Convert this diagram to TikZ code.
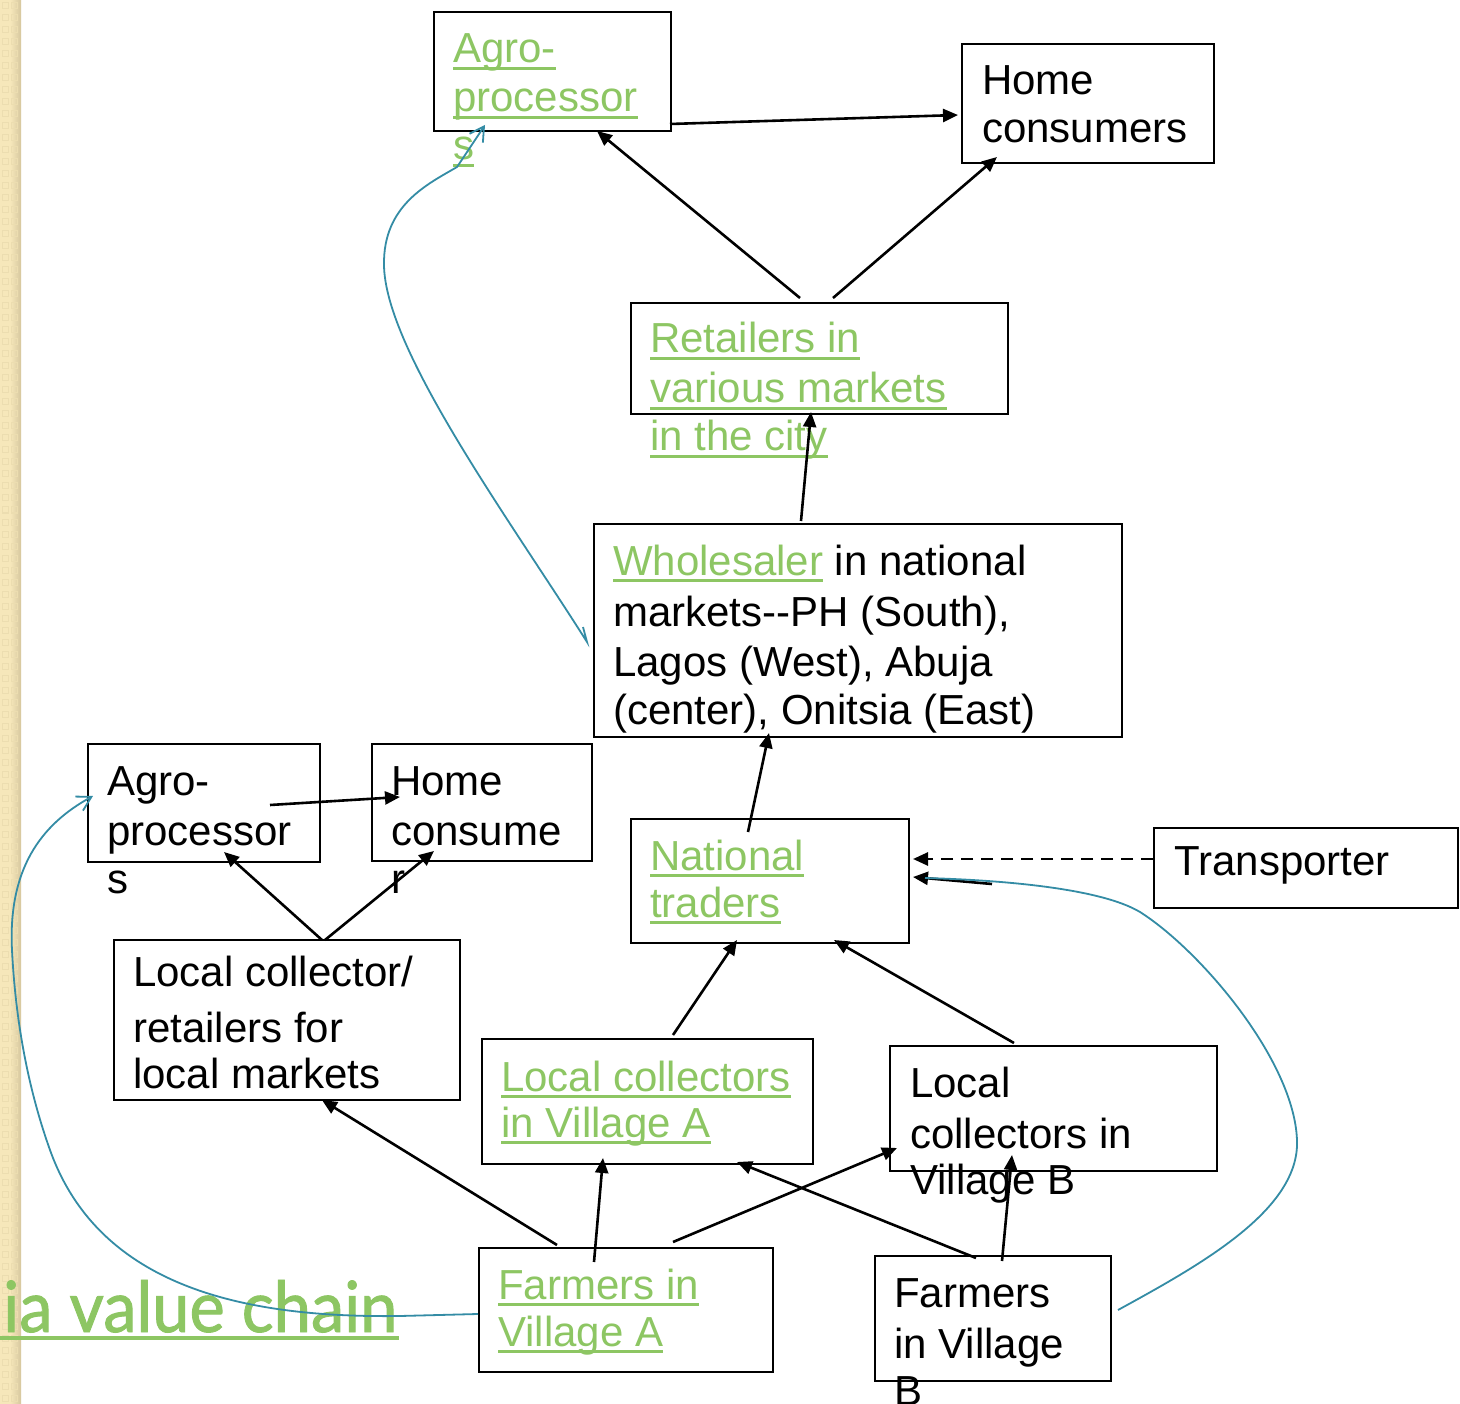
\documentclass[tikz,border=0pt]{standalone}
\usepackage{fontspec}
\setmainfont{Liberation Sans}
\newfontfamily\titlefont[FakeBold=1.3]{Lato}
\usepackage{graphicx}
\usetikzlibrary{arrows.meta,calc}
\definecolor{lgreen}{RGB}{141,198,99}
\definecolor{curveblue}{RGB}{52,140,165}
\definecolor{stripeA}{RGB}{246,231,186}
\definecolor{stripeB}{RGB}{214,199,158}
\definecolor{stripeC}{RGB}{236,221,176}
\newsavebox\gulbox
\newcommand\gul[1]{\sbox\gulbox{#1}\rlap{\rule[-7pt]{\wd\gulbox}{3pt}}\usebox\gulbox}
\tikzset{
  boxnode/.style={draw=black, line width=2.4pt, fill=none, inner sep=0pt, anchor=north west},
  txt/.style={inner sep=0pt, anchor=base west, font=\fontsize{42}{49}\selectfont, text=black},
  gtxt/.style={txt, text=lgreen},
  flow/.style={line width=2.6pt, -{Triangle[length=15pt,width=13pt]}},
  dflow/.style={flow, dash pattern=on 12pt off 8pt},
  bluecurve/.style={draw=curveblue, line width=1.8pt},
  bluearrow/.style={bluecurve, -{Straight Barb[length=14pt,width=16pt,line width=1.8pt]}}
}
\begin{document}
\begin{tikzpicture}[x=1pt,y=-1pt]
\useasboundingbox (0,0) rectangle (1460,1404);
\fill[white] (0,0) rectangle (1460,1404);
% left decorative stripe
\shade[left color=stripeA, right color=stripeB, middle color=stripeA] (0,0) rectangle (21,1404);
\foreach \yy in {0,12,...,1400} {
  \draw[stripeC, line width=1pt] (2,\yy+3) rectangle (8,\yy+9);
  \draw[stripeC, line width=1pt] (11,\yy+3) rectangle (17,\yy+9);
}

% title fragment
\node[inner sep=0pt, anchor=base west, text=lgreen] (title) at (3,1332)
  {\resizebox{394pt}{52pt}{\titlefont ia value chain}};
\fill[lgreen] (0,1336) rectangle (399,1340);

% boxes
\node[boxnode, minimum width=237pt, minimum height=119pt] (agroT) at (433,11) {};
\node[boxnode, minimum width=252pt, minimum height=119pt] (homeT) at (961,43) {};
\node[boxnode, minimum width=377pt, minimum height=111pt] (ret) at (630,302) {};
\node[boxnode, minimum width=528pt, minimum height=213pt] (whole) at (593,523) {};
\node[boxnode, minimum width=232pt, minimum height=118pt] (agroL) at (87,743) {};
\node[boxnode, minimum width=220pt, minimum height=117pt] (homeL) at (371,743) {};
\node[boxnode, minimum width=278pt, minimum height=124pt] (nat) at (630,818) {};
\node[boxnode, minimum width=304pt, minimum height=80pt] (trans) at (1153,827) {};
\node[boxnode, minimum width=346pt, minimum height=160pt] (lcr) at (113,939) {};
\node[boxnode, minimum width=331pt, minimum height=125pt] (lca) at (481,1038) {};
\node[boxnode, minimum width=327pt, minimum height=125pt] (lcb) at (889,1045) {};
\node[boxnode, minimum width=294pt, minimum height=124pt] (fa) at (478,1247) {};
\node[boxnode, minimum width=236pt, minimum height=125pt] (fb) at (874,1255) {};

% texts
\node[gtxt] (agroT1) at (453,63) {\gul{Agro-}};
\node[gtxt] (agroT2) at (453,112) {\gul{processor}};
\node[gtxt] (agroT3) at (453,160) {\gul{s}};

\node[txt] (homeT1) at (982,95) {Home};
\node[txt] (homeT2) at (982,143) {consumers};

\node[gtxt] (ret1) at (650,353) {\gul{Retailers in}};
\node[gtxt] (ret2) at (650,403) {\gul{various markets}};
\node[gtxt] (ret3) at (650,451) {\gul{in the city}};

\node[txt] (whole1) at (613,575) {\textcolor{lgreen}{\gul{Wholesaler}} in national};
\node[txt] (whole2) at (613,626) {markets-{}-PH (South),};
\node[txt] (whole3) at (613,676) {Lagos (West), Abuja};
\node[txt] (whole4) at (613,724) {(center), Onitsia (East)};

\node[txt] (agroL1) at (107,795) {Agro-};
\node[txt] (agroL2) at (107,845) {processor};
\node[txt] (agroL3) at (107,893) {s};

\node[txt] (homeL1) at (391,795) {Home};
\node[txt] (homeL2) at (391,845) {consume};
\node[txt] (homeL3) at (391,893) {r};

\node[gtxt] (nat1) at (650,870) {\gul{National}};
\node[gtxt] (nat2) at (650,917) {\gul{traders}};

\node[txt] (trans1) at (1174,875) {Transporter};

\node[txt] (lcr1) at (133,986) {Local collector/};
\node[txt] (lcr2) at (133,1042) {retailers for};
\node[txt] (lcr3) at (133,1088) {local markets};

\node[gtxt] (lca1) at (501,1091) {\gul{Local collectors}};
\node[gtxt] (lca2) at (501,1137) {\gul{in Village A}};

\node[txt] (lcb1) at (910,1097) {Local};
\node[txt] (lcb2) at (910,1148) {collectors in};
\node[txt] (lcb3) at (910,1194) {Village B};

\node[gtxt] (fa1) at (498,1299) {\gul{Farmers in}};
\node[gtxt] (fa2) at (498,1346) {\gul{Village A}};

\node[txt] (fb1) at (894,1307) {Farmers};
\node[txt] (fb2) at (894,1358) {in Village};
\node[txt] (fb3) at (894,1405) {B};

% black connectors
\draw[flow] ($(agroT.north west)+(237,113)$) -- ($(homeT.north west)+(-3,72)$);
\draw[flow] ($(ret.north west)+(170,-4)$) -- ($(agroT.north west)+(164,120)$);
\draw[flow] ($(ret.north west)+(203,-4)$) -- ($(homeT.north west)+(36,114)$);
\draw[flow] ($(whole.north west)+(208,-2)$) -- ($(ret.north west)+(181,110)$);
\draw[flow] ($(nat.north west)+(118,14)$) -- ($(whole.north west)+(176,210)$);
\draw[flow] ($(lca.north west)+(192,-3)$) -- ($(nat.north west)+(107,122)$);
\draw[flow] ($(lcb.north west)+(125,-2)$) -- ($(nat.north west)+(204,122)$);
\draw[dflow] ($(trans.north west)+(0,32)$) -- ($(nat.north west)+(283,41)$);
\draw[flow] ($(nat.north west)+(362,66)$) -- ($(nat.north west)+(283,59)$);
\draw[flow] ($(agroL.north west)+(183,62)$) -- ($(homeL.north west)+(29,54)$);
\draw[flow] ($(lcr.north west)+(209,1)$) -- ($(agroL.north west)+(137,109)$);
\draw[flow] ($(lcr.north west)+(212,1)$) -- ($(homeL.north west)+(63,108)$);
\draw[flow] ($(fa.north west)+(79,-2)$) -- ($(lcr.north west)+(209,161)$);
\draw[flow] ($(fa.north west)+(116,15)$) -- ($(lca.north west)+(122,120)$);
\draw[flow] ($(fa.north west)+(195,-5)$) -- ($(lcb.north west)+(8,103)$);
\draw[flow] ($(fb.north west)+(102,3)$) -- ($(lca.north west)+(256,124)$);
\draw[flow] ($(fb.north west)+(128,6)$) -- ($(lcb.north west)+(123,110)$);

% blue curved connectors
\coordinate (wholeTick) at ($(whole.north west)+(-10,104)$);
\coordinate (wholeCurve) at ($(whole.north west)+(-6,119)$);
\coordinate (agroTCurve) at ($(agroT.north west)+(52,114)$);
\draw[bluearrow] (wholeTick) -- (wholeCurve)
  .. controls (510,520) and (385,350) .. (384,265)
  .. controls (383,205) and (428,184) .. (457,167) -- (agroTCurve);

\coordinate (faCurve) at ($(fa.north west)+(0,67)$);
\coordinate (agroLCurve) at ($(agroL.north west)+(6,53)$);
\draw[bluearrow] (faCurve) -- (400,1316)
  .. controls (250,1318) and (100,1290) .. (50,1150)
  .. controls (25,1080) and (15,1010) .. (12,950)
  .. controls (8,870) and (40,825) .. (agroLCurve);

\coordinate (fbCurve) at ($(fb.north west)+(244,55)$);
\coordinate (natCurve) at ($(nat.north west)+(295,60)$);
\draw[bluecurve] (fbCurve)
  .. controls (1200,1265) and (1300,1210) .. (1297,1140)
  .. controls (1294,1060) and (1200,950) .. (1140,912)
  .. controls (1100,888) and (1000,880) .. (natCurve);
\end{tikzpicture}
\end{document}
